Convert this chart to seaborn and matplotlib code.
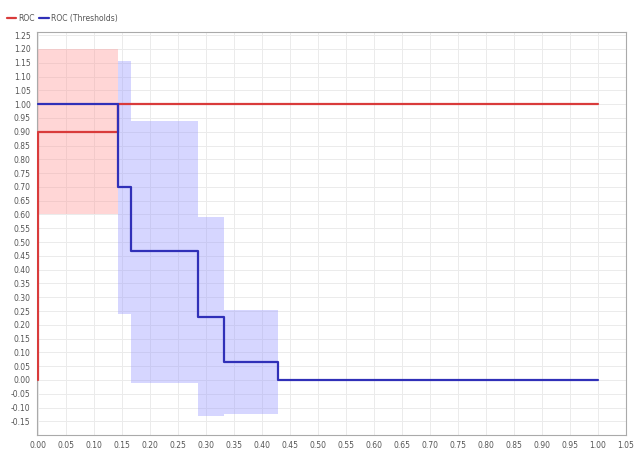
import matplotlib
matplotlib.use("Agg")
import matplotlib.pyplot as plt
import numpy as np
import pandas as pd
import seaborn as sns
from matplotlib.lines import Line2D

# ROC curve (step points)
roc_x = [0.0, 0.0, 0.143, 1.0]
roc_y = [0.0, 0.9, 1.0, 1.0]

# ROC (Thresholds) curve (step points)
thr_x = [0.0, 0.143, 0.167, 0.286, 0.333, 0.429, 1.0]
thr_y = [1.0, 0.7, 0.467, 0.227, 0.065, 0.0, 0.0]

# shaded bands (step edges, low, high)
roc_band_x = [0.0, 0.143]
roc_band_lo = [0.6]
roc_band_hi = [1.2]

thr_band_x = [0.143, 0.167, 0.286, 0.333, 0.429]
thr_band_lo = [0.24, -0.01, -0.13, -0.125]
thr_band_hi = [1.155, 0.94, 0.59, 0.255]

RED = "#d93b3b"
BLUE = "#3030b8"

sns.set_style("white")
plt.rcParams["font.family"] = ["DejaVu Sans"]

fig = plt.figure(figsize=(6.36, 4.5), dpi=100)
ax = fig.add_axes([0.058, 0.033, 0.926, 0.895])

# bands, drawn as post-steps
ax.fill_between(roc_band_x, roc_band_lo + roc_band_lo[-1:], roc_band_hi + roc_band_hi[-1:],
                step="post", color="#ff9a9a", alpha=0.4, linewidth=0, zorder=1)
ax.fill_between(thr_band_x, thr_band_lo + thr_band_lo[-1:], thr_band_hi + thr_band_hi[-1:],
                step="post", color="#9a9aff", alpha=0.4, linewidth=0, zorder=1)

roc = pd.DataFrame({"x": roc_x, "y": roc_y})
thr = pd.DataFrame({"x": thr_x, "y": thr_y})
# estimator=None so the two points at x=0 are not averaged
sns.lineplot(data=roc, x="x", y="y", sort=False, estimator=None, drawstyle="steps-post",
             color=RED, linewidth=1.6, ax=ax, zorder=3)
sns.lineplot(data=thr, x="x", y="y", sort=False, estimator=None, drawstyle="steps-post",
             color=BLUE, linewidth=1.6, ax=ax, zorder=4)

ax.set_xlim(-0.002, 1.05)
ax.set_ylim(-0.2, 1.26)
xt = np.arange(0, 1.0501, 0.05)
yt = np.arange(-0.15, 1.2501, 0.05)
ax.set_xticks(xt)
ax.set_yticks(yt)
ax.set_xticklabels([f"{v:.2f}" for v in xt])
ax.set_yticklabels([f"{v:.2f}".replace("-0.00", "0.00") for v in yt])
ax.grid(True, color="#ebebeb", linewidth=0.7, zorder=0)
ax.set_axisbelow(True)
ax.tick_params(axis="both", labelsize=5.5, colors="#555555", length=2.5, width=0.6, pad=2)
ax.set_xlabel("")
ax.set_ylabel("")
for s in ax.spines.values():
    s.set_color("#aaaaaa")
    s.set_linewidth(0.8)

# legend above the plot, top left
handles = [Line2D([], [], color=RED, linewidth=1.6, label="ROC"),
           Line2D([], [], color=BLUE, linewidth=1.6, label="ROC (Thresholds)")]
fig.legend(handles=handles, loc="upper left", bbox_to_anchor=(0.0, 0.985), ncol=2,
           frameon=False, fontsize=5.5, handlelength=1.2, handletextpad=0.3,
           columnspacing=0.6, labelcolor="#555555")

fig.savefig("out.png", dpi=100)
